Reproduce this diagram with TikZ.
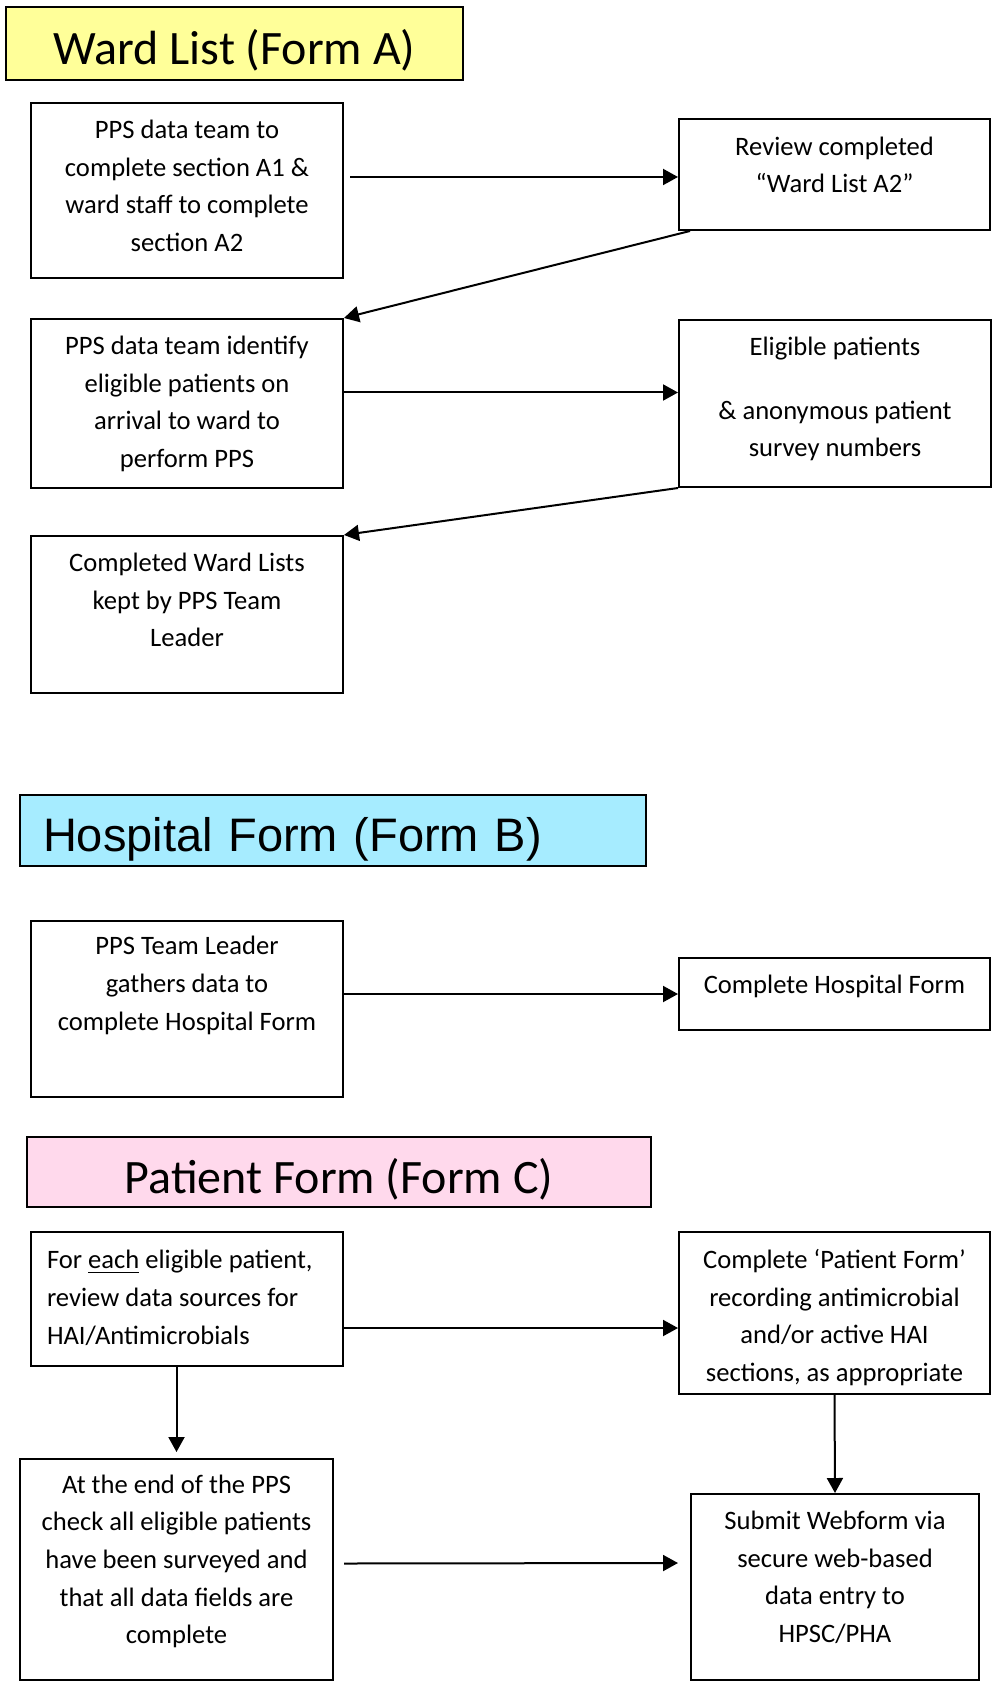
\documentclass[tikz,border=0pt]{standalone}
\usepackage{fontspec}
\setmainfont{Carlito}
\newfontfamily\arialfont{Liberation Sans}
\usetikzlibrary{arrows.meta}
\definecolor{formAyellow}{RGB}{255,255,153}
\definecolor{formBcyan}{RGB}{166,236,255}
\definecolor{formCpink}{RGB}{255,217,236}
\newcommand{\boxfont}{\fontsize{13.3pt}{18.8pt}\selectfont}
\newcommand{\headfont}{\fontsize{24pt}{28pt}\selectfont}
% extra depth under the last line, pushes the text up by #1
\newcommand{\lift}[1]{\rule[\dimexpr-5.64pt-#1-#1\relax]{0pt}{0pt}}
\tikzset{
	stepbox/.style = {draw, line width = 1pt, align = center, inner sep = 0pt, font = \boxfont},
	formhead/.style = {draw, line width = 1pt, inner sep = 0pt, text height = 21pt, text depth = 0pt, font = \headfont},
	flow/.style = {line width = 1pt, -{Triangle[length = 7.5pt, width = 8pt]}}
}

\begin{document}
\begin{tikzpicture}[x = 0.5pt, y = -0.5pt]
	\useasboundingbox (0,0) rectangle (999,1684);
	% Form A
	\node[formhead, fill = formAyellow, minimum width = 228.5pt, minimum height = 36.5pt] (headA) at (234.5,43.5) {Ward List (Form A)};
	\node[stepbox, minimum width = 156pt, minimum height = 87.5pt] (wardA1) at (187,190.5)
		{\strut PPS data team to\\complete section A1 \&\\ward staff to complete\\section A2\strut\lift{1.5pt}};
	\node[stepbox, minimum width = 155.5pt, minimum height = 55.5pt] (review) at (834.5,174.5)
		{\strut Review completed\\“Ward List A2”\strut\lift{4pt}};
	\node[stepbox, minimum width = 156pt, minimum height = 84.5pt] (identify) at (187,403.5)
		{\strut PPS data team identify\\eligible patients on\\arrival to ward to\\perform PPS\strut};
	\node[stepbox, minimum width = 156pt, minimum height = 83.5pt] (eligible) at (835,403.5)
		{\strut Eligible patients\\[13pt]\& anonymous patient\\survey numbers\strut\lift{2.5pt}};
	\node[stepbox, minimum width = 156pt, minimum height = 78.5pt] (kept) at (187,614.5)
		{\strut Completed Ward Lists\\kept by PPS Team\\Leader\strut\lift{6.5pt}};
	\draw[flow] ([xshift = 3pt, yshift = 6.75pt]wardA1.east) -- ([yshift = -1.25pt]review.west);
	\draw[flow] ([xshift = 6pt]review.south west) -- (identify.north east);
	\draw[flow] ([yshift = 5.5pt]identify.east) -- ([yshift = 5.5pt]eligible.west);
	\draw[flow] (eligible.south west) -- (kept.north east);
	% Form B
	\node[formhead, fill = formBcyan, align = left, text width = 290pt, inner xsep = 11.5pt, minimum height = 35.5pt, font = \arialfont\fontsize{23.5pt}{28pt}\selectfont] (headB) at (333,830.5) {Hospital Form (Form B)};
	\node[stepbox, minimum width = 156pt, minimum height = 88pt] (hospB1) at (187,1009)
		{\strut PPS Team Leader\\gathers data to\\complete Hospital Form\strut\lift{12pt}};
	\node[stepbox, minimum width = 155.5pt, minimum height = 36pt] (hospB2) at (834.5,994)
		{\strut Complete Hospital Form\strut\lift{4pt}};
	\draw[flow] (hospB1.east |- hospB2.west) -- (hospB2.west);
	% Form C
	\node[formhead, fill = formCpink, minimum width = 312pt, minimum height = 35pt] (headC) at (339,1172) {Patient Form (Form C)};
	\node[stepbox, align = flush left, text width = 140pt, inner xsep = 8pt, minimum height = 67pt] (patC1) at (187,1299)
		{\strut For \underline{each} eligible patient,\\review data sources for\\HAI/Antimicrobials\strut};
	\node[stepbox, minimum width = 155.5pt, minimum height = 81pt] (patC2) at (834.5,1313)
		{\rule{0pt}{17.5pt}Complete ‘Patient Form’\\recording antimicrobial\\and/or active HAI\\sections, as appropriate\strut};
	\node[stepbox, minimum width = 156.5pt, minimum height = 110.5pt] (patC3) at (176.5,1569.5)
		{\strut At the end of the PPS\\check all eligible patients\\have been surveyed and\\that all data fields are\\complete\strut\lift{4.25pt}};
	\node[stepbox, minimum width = 144pt, minimum height = 93pt] (patC4) at (835,1587)
		{\strut Submit Webform via\\secure web-based\\data entry to\\HPSC/PHA\strut\lift{4.25pt}};
	\draw[flow] ([yshift = -14.5pt]patC1.east) -- ([yshift = -7.5pt]patC2.west);
	\draw[flow, shorten >= 3pt] (patC1.south -| patC3.north) -- (patC3.north);
	\draw[flow] (patC2.south) -- (patC4.north);
	\draw[flow] ([xshift = 5pt, yshift = 3pt]patC3.east) -- ([xshift = -6pt, yshift = 12pt]patC4.west);
\end{tikzpicture}
\end{document}
